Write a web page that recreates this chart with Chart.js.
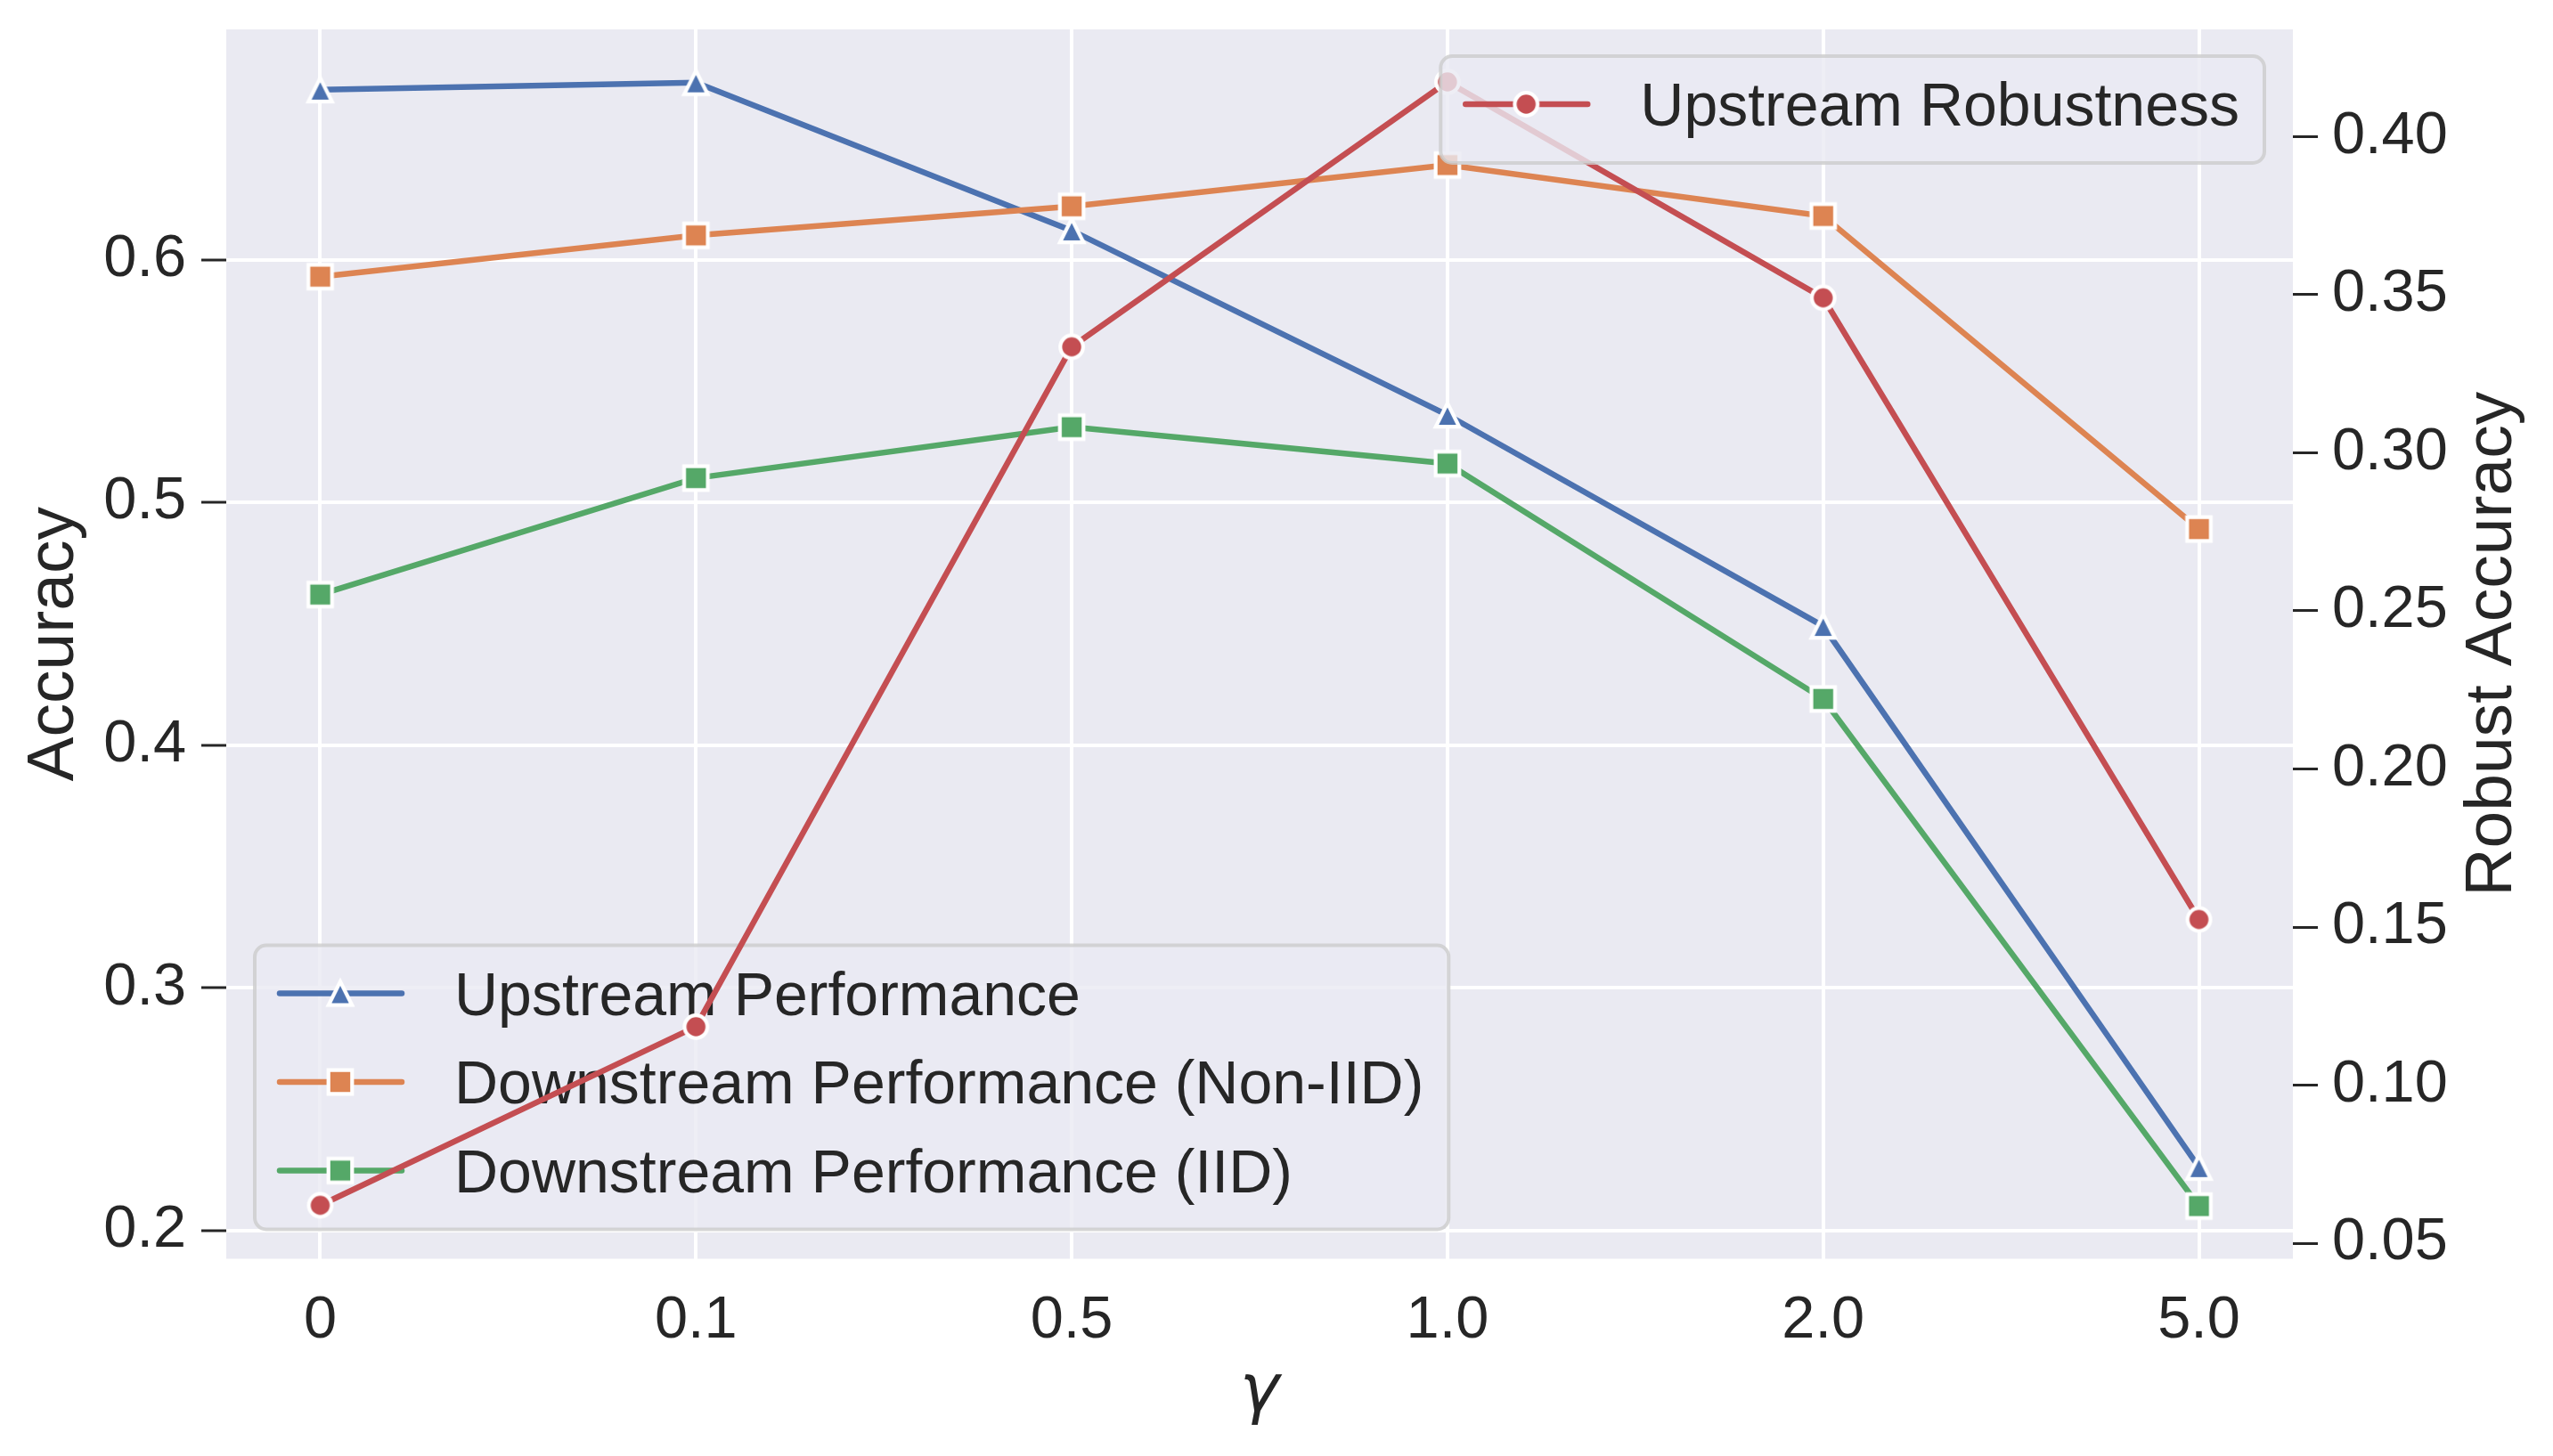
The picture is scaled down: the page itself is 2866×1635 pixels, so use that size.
<!DOCTYPE html>
<html>
<head>
<meta charset="utf-8">
<script src="https://cdn.jsdelivr.net/npm/chart.js@4.4.1/dist/chart.umd.min.js"></script>
<style>
  html,body{margin:0;padding:0;background:#fff;overflow:hidden;}
  #chart{display:block;}
</style>
</head>
<body>
<canvas id="chart" width="2866" height="1635" style="width:2866px;height:1635px"></canvas>
<script>
// data
const gammaLabels = ['0', '0.1', '0.5', '1.0', '2.0', '5.0'];
const upstreamPerf = [0.670, 0.673, 0.612, 0.536, 0.449, 0.226];
const downNonIID   = [0.593, 0.610, 0.622, 0.639, 0.618, 0.489];
const downIID      = [0.462, 0.510, 0.531, 0.516, 0.419, 0.210];
const upstreamRob  = [0.062, 0.1185, 0.3335, 0.4173, 0.349, 0.1524];

const accTicks = [0.2, 0.3, 0.4, 0.5, 0.6];
const robTicks = [0.05, 0.10, 0.15, 0.20, 0.25, 0.30, 0.35, 0.40];
const accRange = [0.1883, 0.6949];
const robRange = [0.0451, 0.4339];

const C = {blue:'#4C72B0', orange:'#DD8452', green:'#55A868', red:'#C44E52', bg:'#EAEAF2', txt:'#262626'};
const FONT = '"Liberation Sans", Arial, sans-serif';
const FS = 66.7;   // tick labels
const LFS = 68;    // legend text

function makeMarker(shape, color){
  const s = 54, c = document.createElement('canvas');
  c.width = s; c.height = s;
  const g = c.getContext('2d');
  g.translate(s/2, s/2);
  g.beginPath();
  if(shape==='circle') g.arc(0, 0, 12.8, 0, Math.PI*2);
  else if(shape==='square') g.rect(-13.3, -13.3, 26.6, 26.6);
  else { g.moveTo(0, -13.2); g.lineTo(13.2, 13.2); g.lineTo(-13.2, 13.2); g.closePath(); }
  g.fillStyle = color; g.fill();
  g.lineJoin = 'miter'; g.lineWidth = 4.2; g.strokeStyle = '#fff'; g.stroke();
  return c;
}
const mk = {
  tri: makeMarker('tri', C.blue),
  sqO: makeMarker('square', C.orange),
  sqG: makeMarker('square', C.green),
  dot: makeMarker('circle', C.red)
};

const pts = arr => arr.map((v,i)=>({x:i, y:v}));

function line(label, arr, color, marker, axis, order){
  return {label, data:pts(arr), yAxisID:axis, order,
    borderColor:color, borderWidth:6.5, pointStyle:marker, pointRadius:13,
    tension:0, fill:false};
}

// legend drawn like matplotlib's framed legend
function drawLegend(ctx, x, y, entries, anchorRight){
  ctx.save();
  ctx.font = LFS + 'px ' + FONT;
  const tw = Math.max(...entries.map(e=>ctx.measureText(e.label).width));
  const w = 224 + tw + 28, h = 120 + (entries.length-1)*99.5;
  const bx = anchorRight ? x - w : x, by = y;
  ctx.beginPath();
  ctx.roundRect(bx, by, w, h, 13);
  ctx.fillStyle = 'rgba(234,234,242,0.8)';
  ctx.fill();
  ctx.lineWidth = 4;
  ctx.strokeStyle = 'rgba(204,204,204,0.8)';
  ctx.stroke();
  entries.forEach((e,i)=>{
    const ry = by + 54 + i*99.5;
    ctx.beginPath();
    ctx.moveTo(bx+28, ry); ctx.lineTo(bx+165, ry);
    ctx.lineWidth = 6.5; ctx.lineCap = 'round'; ctx.strokeStyle = e.color; ctx.stroke();
    ctx.drawImage(e.marker, bx+96-e.marker.width/2, ry-e.marker.height/2);
    ctx.fillStyle = C.txt; ctx.textAlign = 'left'; ctx.textBaseline = 'alphabetic';
    ctx.fillText(e.label, bx+224, ry+24);
  });
  ctx.restore();
}

const frame = {
  id:'frame',
  beforeDraw(chart){
    const {ctx, chartArea:a} = chart;
    ctx.save();
    ctx.fillStyle = '#fff'; ctx.fillRect(0,0,chart.width,chart.height);
    ctx.fillStyle = C.bg; ctx.fillRect(a.left, a.top, a.right-a.left, a.bottom-a.top);
    ctx.restore();
  },
  beforeDatasetDraw(chart, args){
    if(args.meta.yAxisID !== 'y2') return;
    const a = chart.chartArea;
    drawLegend(chart.ctx, a.left+32, a.bottom-33-(120+2*99.5), [
      {label:'Upstream Performance', color:C.blue, marker:mk.tri},
      {label:'Downstream Performance (Non-IID)', color:C.orange, marker:mk.sqO},
      {label:'Downstream Performance (IID)', color:C.green, marker:mk.sqG}
    ], false);
  },
  afterDraw(chart){
    const {ctx, chartArea:a} = chart;
    drawLegend(ctx, a.right-32, a.top+30, [
      {label:'Upstream Robustness', color:C.red, marker:mk.dot}
    ], true);
    ctx.save();
    ctx.fillStyle = C.txt;
    ctx.textAlign = 'center'; ctx.textBaseline = 'alphabetic';
    const cy = (a.top+a.bottom)/2;
    ctx.font = '75px ' + FONT;
    ctx.translate(a.left-172, cy); ctx.rotate(-Math.PI/2);
    ctx.fillText('Accuracy', 0, 0);
    ctx.setTransform(1,0,0,1,0,0);
    ctx.translate(a.right+245, cy); ctx.rotate(-Math.PI/2);
    ctx.fillText('Robust Accuracy', 0, 0);
    ctx.setTransform(1,0,0,1,0,0);
    ctx.font = 'italic 75px "DejaVu Sans"';
    ctx.fillText('γ', (a.left+a.right)/2, 1584);
    ctx.restore();
  }
};

const noPad = s => { s.paddingTop = 0; s.paddingBottom = 0; };

new Chart(document.getElementById('chart'), {
  type:'line',
  data:{datasets:[
    line('Upstream Performance', upstreamPerf, C.blue, mk.tri, 'y', 3),
    line('Downstream Performance (Non-IID)', downNonIID, C.orange, mk.sqO, 'y', 2),
    line('Downstream Performance (IID)', downIID, C.green, mk.sqG, 'y', 1),
    line('Upstream Robustness', upstreamRob, C.red, mk.dot, 'y2', 0)
  ]},
  options:{
    responsive:false, devicePixelRatio:1, animation:false, events:[],
    layout:{padding:{top:33, left:0, right:0, bottom:0}},
    plugins:{legend:{display:false}, tooltip:{enabled:false}},
    scales:{
      x:{type:'linear', min:-0.25, max:5.25,
        afterBuildTicks:s=>{ s.ticks = gammaLabels.map((_,i)=>({value:i})); },
        afterFit:s=>{ s.height = 221.5; s.paddingLeft = 0; s.paddingRight = 0; },
        ticks:{callback:v=>gammaLabels[v], color:C.txt, font:{family:FONT, size:FS}, padding:30, maxRotation:0},
        grid:{color:'#fff', lineWidth:4, drawTicks:false}, border:{display:false}},
      y:{position:'left', min:accRange[0], max:accRange[1],
        afterBuildTicks:s=>{ s.ticks = accTicks.map(v=>({value:v})); },
        afterFit:s=>{ s.width = 254; noPad(s); },
        ticks:{callback:v=>v.toFixed(1), color:C.txt, font:{family:FONT, size:FS}, padding:17},
        grid:{color:'#fff', lineWidth:4, tickColor:C.txt, tickWidth:3, tickLength:28}, border:{display:false}},
      y2:{position:'right', min:robRange[0], max:robRange[1],
        afterBuildTicks:s=>{ s.ticks = robTicks.map(v=>({value:v})); },
        afterFit:s=>{ s.width = 292; noPad(s); },
        ticks:{callback:v=>v.toFixed(2), color:C.txt, font:{family:FONT, size:FS}, padding:16},
        grid:{drawOnChartArea:false, tickColor:C.txt, tickWidth:3, tickLength:28}, border:{display:false}}
    }
  },
  plugins:[frame]
});
</script>
</body>
</html>
